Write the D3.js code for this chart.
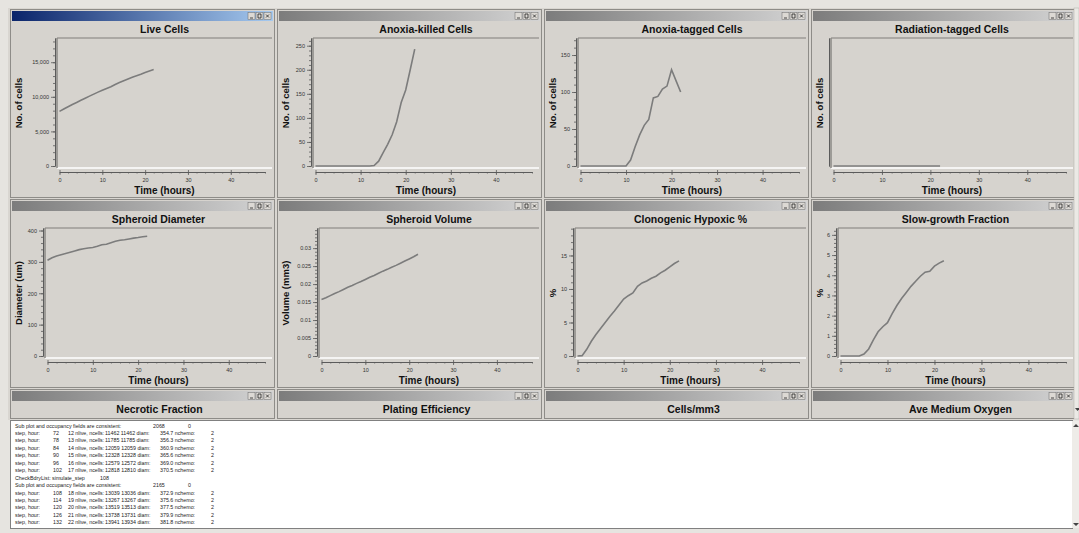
<!DOCTYPE html>
<html>
<head>
<meta charset="utf-8">
<script src="https://cdn.jsdelivr.net/npm/d3@7"></script>
<style>
body { margin: 0; background: #e4e2de; }
svg { display: block; font-family: "Liberation Sans", Arial, sans-serif; }
</style>
</head>
<body>
<script>
// sampled once per simulated hour
var hours = [0,1,2,3,4,5,6,7,8,9,10,11,12,13,14,15,16,17,18,19,20,21,22];

var liveCells = [7900,8230,8560,8880,9190,9500,9800,10100,10390,10680,10950,11210,11462,11785,12059,12328,12579,12818,13039,13267,13519,13738,13941];
var anoxiaKilled = [0,0,0,0,0,0,0,0,0,0,0,0,0,1,10,28,45,65,92,132,158,200,243];
var anoxiaTagged = [0,0,0,0,0,0,0,0,0,0,0,8,26,42,55,63,92,94,104,108,130,115,100];
var radiationTagged = [0,0,0,0,0,0,0,0,0,0,0,0,0,0,0,0,0,0,0,0,0,0,0];
var diameter = [305,313,319,323,327,331,335,339,342,344,346,350,354.7,356.3,360.9,365.6,369.0,370.5,372.9,375.6,377.5,379.9,381.8];
var volume = [0.0157,0.0162,0.0168,0.0174,0.0179,0.0185,0.0191,0.0196,0.0202,0.0207,0.0213,0.0219,0.0224,0.0230,0.0236,0.0241,0.0247,0.0252,0.0258,0.0264,0.0270,0.0276,0.0283];
var clonogenic = [0,0.05,1.0,2.2,3.2,4.1,5.0,5.9,6.7,7.6,8.5,9.0,9.4,10.4,10.9,11.2,11.6,11.9,12.4,12.8,13.3,13.8,14.2];
var slowGrowth = [0,0,0,0,0,0.1,0.35,0.8,1.2,1.45,1.65,2.1,2.5,2.85,3.15,3.45,3.7,3.95,4.15,4.2,4.45,4.6,4.72];

var titles = ["Live Cells", "Anoxia-killed Cells", "Anoxia-tagged Cells", "Radiation-tagged Cells",
              "Spheroid Diameter", "Spheroid Volume", "Clonogenic Hypoxic %", "Slow-growth Fraction",
              "Necrotic Fraction", "Plating Efficiency", "Cells/mm3", "Ave Medium Oxygen"];
var yLabels = ["No. of cells", "No. of cells", "No. of cells", "No. of cells",
               "Diameter (um)", "Volume (mm3)", "%", "%"];
var series = [liveCells, anoxiaKilled, anoxiaTagged, radiationTagged, diameter, volume, clonogenic, slowGrowth];
var yMax = [18500, 266, 173, 0, 408, 0.0356, 19.1, 6.34];
var yTicks = [[0,5000,10000,15000], [0,50,100,150,200,250], [0,50,100,150], [],
              [0,100,200,300,400], [0,0.005,0.01,0.015,0.02,0.025,0.03], [0,5,10,15], [0,1,2,3,4,5,6]];
var yMinor = [1000, 10, 10, 0, 20, 0.001, 1, 0.2];
var yFormat = [",", "d", "d", "d", "d", ".3~f", "d", "d"];
var xTicks = [0, 10, 20, 30, 40];
var xMax = 48;

var logRows = [
    ["Sub plot and occupancy fields are consistent:", "2068", "0"],
    ["step, hour:", "72", "12 nlive, ncells:", "11462 11462 diam:", "354.7 nchemo:", "2"],
    ["step, hour:", "78", "13 nlive, ncells:", "11785 11785 diam:", "356.3 nchemo:", "2"],
    ["step, hour:", "84", "14 nlive, ncells:", "12059 12059 diam:", "360.9 nchemo:", "2"],
    ["step, hour:", "90", "15 nlive, ncells:", "12328 12328 diam:", "365.6 nchemo:", "2"],
    ["step, hour:", "96", "16 nlive, ncells:", "12579 12572 diam:", "369.0 nchemo:", "2"],
    ["step, hour:", "102", "17 nlive, ncells:", "12818 12810 diam:", "370.5 nchemo:", "2"],
    ["CheckBdryList: simulate_step", "108"],
    ["Sub plot and occupancy fields are consistent:", "2165", "0"],
    ["step, hour:", "108", "18 nlive, ncells:", "13039 13036 diam:", "372.9 nchemo:", "2"],
    ["step, hour:", "114", "19 nlive, ncells:", "13267 13267 diam:", "375.6 nchemo:", "2"],
    ["step, hour:", "120", "20 nlive, ncells:", "13519 13513 diam:", "377.5 nchemo:", "2"],
    ["step, hour:", "126", "21 nlive, ncells:", "13738 13731 diam:", "379.9 nchemo:", "2"],
    ["step, hour:", "132", "22 nlive, ncells:", "13941 13934 diam:", "381.8 nchemo:", "2"]
];

// layout
var W = 1079, H = 533;
var colLeft = [12, 279, 546, 813], panelW = 261;
var rowTop = [9, 199, 389];
var plotLeftOffset = [45, 34, 32, 18, 33, 40, 29, 25];
var logCols = { 2: [15, 100], 3: [15, 153, 188], 6: [15, 53, 68, 105, 160, 211] };

var svg = d3.select("body").append("svg")
    .attr("width", W)
    .attr("height", H);

var defs = svg.append("defs");
function gradient(id, c0, c1) {
    var g = defs.append("linearGradient").attr("id", id);
    g.append("stop").attr("offset", "0%").attr("stop-color", c0);
    g.append("stop").attr("offset", "100%").attr("stop-color", c1);
}
gradient("barActive", "#0a246a", "#a6caf0");
gradient("barInactive", "#7c7c7c", "#d4d4d4");

svg.append("rect").attr("width", W).attr("height", H).attr("fill", "#e6e4e0");
svg.append("rect").attr("x", 8).attr("y", 8).attr("width", 1066).attr("height", 412).attr("fill", "#d9d6d1");

function drawButtons(g, right, barY) {
    [right - 25, right - 17, right - 9].forEach(function (bx, k) {
        g.append("rect").attr("x", bx).attr("y", barY + 1.5).attr("width", 7).attr("height", 7)
            .attr("fill", "#dcd9d4").attr("stroke", "#6a6a6a").attr("stroke-width", 0.5);
        var glyph = k == 0 ? "M" + (bx + 2) + "," + (barY + 7) + "h3"
            : k == 1 ? "M" + (bx + 2) + "," + (barY + 3) + "h3v4h-3z"
            : "M" + (bx + 2) + "," + (barY + 3.5) + "l3,3M" + (bx + 5) + "," + (barY + 3.5) + "l-3,3";
        g.append("path").attr("d", glyph).attr("fill", "none").attr("stroke", "#222").attr("stroke-width", 0.8);
    });
}

titles.forEach(function (title, i) {
    var col = i % 4, row = Math.floor(i / 4);
    var left = colLeft[col], top = rowTop[row], right = left + panelW;
    var bottom = row < 2 ? top + 189 : 419;
    var p = svg.append("g");

    // window frame + title bar
    p.append("rect")
        .attr("x", left - 1.5).attr("y", top + 0.5)
        .attr("width", panelW + 3).attr("height", bottom - top - 1)
        .attr("fill", "#d6d3ce").attr("stroke", "#8e8c88");
    p.append("rect")
        .attr("x", left).attr("y", top + 2)
        .attr("width", panelW).attr("height", 10)
        .attr("fill", i == 0 ? "url(#barActive)" : "url(#barInactive)");
    drawButtons(p, right, top + 2);

    var x0 = left + (plotLeftOffset[i] || 35), x1 = right - 1;
    var y0 = top + 29, y1 = y0 + 130;

    p.append("text")
        .attr("x", (x0 + x1) / 2).attr("y", top + 23.5)
        .attr("text-anchor", "middle")
        .attr("font-size", 10.5).attr("font-weight", "bold").attr("fill", "#111")
        .text(title);

    if (row == 2) return;

    // plot area with inset border
    p.append("line").attr("x1", x0).attr("x2", x1).attr("y1", y0).attr("y2", y0)
        .attr("stroke", "#9c9a96").attr("stroke-width", 1.5);
    p.append("line").attr("x1", x0).attr("x2", x1).attr("y1", y1).attr("y2", y1)
        .attr("stroke", "#ffffff").attr("stroke-width", 1.5);
    p.append("line").attr("x1", x0).attr("x2", x0).attr("y1", y0).attr("y2", y1)
        .attr("stroke", "#8a8884").attr("stroke-width", 1.5);

    var x = d3.scaleLinear().domain([0, xMax]).range([x0 + 2.5, x1 - 7]);
    var y = d3.scaleLinear().domain([0, yMax[i] || 1]).range([y1 - 2, y0]);

    var yMinorTicks = yMinor[i] ? d3.range(0, yMax[i], yMinor[i]) : [];
    var ya = p.append("g").attr("transform", "translate(" + (x0 - 2) + ",0)");
    ya.append("g").call(d3.axisLeft(y).tickValues(yMinorTicks).tickSize(2).tickSizeOuter(0).tickFormat(""));
    ya.append("g").call(d3.axisLeft(y).tickValues(yTicks[i]).tickSize(4).tickPadding(2)
        .tickSizeOuter(0).tickFormat(d3.format(yFormat[i])));

    var xa = p.append("g").attr("transform", "translate(0," + (y1 + 4) + ")");
    xa.append("g").call(d3.axisBottom(x).tickValues(d3.range(0, xMax + 1, 2)).tickSize(1.5).tickSizeOuter(0).tickFormat(""));
    xa.append("g").call(d3.axisBottom(x).tickValues(xTicks).tickSize(3).tickPadding(3).tickSizeOuter(0))
        .selectAll(".tick line").attr("y1", -2);

    [ya, xa].forEach(function (a) {
        a.selectAll("g").attr("font-size", 5.5).attr("font-family", "Liberation Sans, Arial, sans-serif");
        a.selectAll(".domain").attr("stroke", "#5a5a5a").attr("stroke-width", 0.9);
        a.selectAll(".tick line").attr("stroke", "#5a5a5a").attr("stroke-width", 0.8);
        a.selectAll(".tick text").attr("fill", "#333");
    });

    p.append("text")
        .attr("transform", "translate(" + (left + 9.5) + "," + ((y0 + y1) / 2) + ") rotate(-90)")
        .attr("text-anchor", "middle")
        .attr("font-size", 9.5).attr("font-weight", "bold").attr("fill", "#111")
        .text(yLabels[i]);
    p.append("text")
        .attr("x", (x0 + x1) / 2).attr("y", y1 + 26)
        .attr("text-anchor", "middle")
        .attr("font-size", 10).attr("font-weight", "bold").attr("fill", "#111")
        .text("Time (hours)");

    var line = d3.line()
        .x(function (d, k) { return x(hours[k]); })
        .y(function (d) { return y(d); });
    p.append("path")
        .datum(series[i])
        .attr("d", line)
        .attr("fill", "none")
        .attr("stroke", "#7c7c7c")
        .attr("stroke-width", 1.6);
});

// scrollbar strip for the plot area
svg.append("rect").attr("x", 1074).attr("y", 8).attr("width", 5).attr("height", 411).attr("fill", "#ebe9e5")
    .attr("stroke", "#b0aea9").attr("stroke-width", 0.5);
svg.append("path").attr("d", "M1075,408l2.5,3l2.5,-3z").attr("fill", "#444");

// output log
svg.append("rect").attr("x", 10.5).attr("y", 420.5).attr("width", 1062).attr("height", 108)
    .attr("fill", "#ffffff").attr("stroke", "#808080");
svg.append("rect").attr("x", 1072).attr("y", 421).attr("width", 7).attr("height", 107).attr("fill", "#eeece8");
svg.append("path").attr("d", "M1073,427l3,-3l3,3z M1073,523l3,3l3,-3z").attr("fill", "#444");

var log = svg.append("g")
    .attr("font-size", 5.3)
    .attr("fill", "#222");
logRows.forEach(function (fields, r) {
    var t = log.append("text").attr("y", 427.5 + r * 7.45);
    fields.forEach(function (f, k) {
        t.append("tspan").attr("x", logCols[fields.length][k]).text(f);
    });
});
</script>
</body>
</html>
